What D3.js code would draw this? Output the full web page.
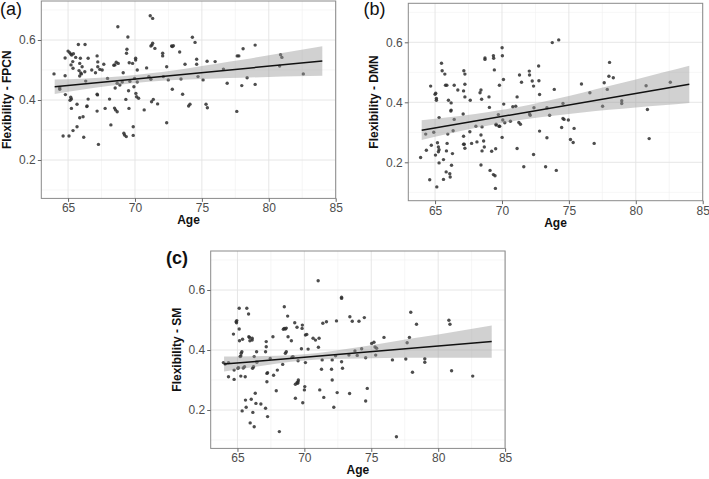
<!DOCTYPE html>
<html><head><meta charset="utf-8">
<script src="https://cdn.jsdelivr.net/npm/d3@7"></script>
<style>body{margin:0;background:#fff;} svg{display:block;font-family:"Liberation Sans",Arial,sans-serif;}</style>
</head><body><svg id="chart" width="709" height="479"></svg>
<script>
// ---------- data ----------
const xDomain = [63, 85];
const yDomain = [0.072, 0.73];
const xTicks = [65, 70, 75, 80, 85];
const xMinor = [67.5, 72.5, 77.5, 82.5];
const yTicks = [0.2, 0.4, 0.6];
const yMinor = [0.1, 0.3, 0.5, 0.7];

const pointsFPCN = [[63.95,0.487],[64.38,0.436],[64.38,0.441],[64.78,0.540],[64.80,0.418],[64.78,0.481],[64.63,0.280],[65.07,0.280],[65.0,0.563],[65.12,0.558],[65.2,0.553],[65.27,0.550],[65.4,0.554],[65.35,0.528],[65.22,0.517],[65.37,0.506],[65.25,0.403],[65.15,0.399],[65.2,0.409],[65.25,0.372],[65.37,0.298],[65.57,0.542],[65.67,0.311],[65.67,0.386],[65.77,0.585],[65.82,0.498],[65.87,0.480],[65.92,0.539],[65.87,0.522],[65.95,0.490],[66.0,0.487],[66.05,0.511],[65.87,0.341],[66.12,0.344],[66.17,0.276],[66.27,0.585],[66.32,0.463],[66.25,0.494],[66.42,0.380],[66.4,0.378],[66.5,0.403],[66.5,0.539],[66.77,0.500],[67.05,0.491],[67.17,0.547],[67.22,0.527],[67.22,0.511],[67.2,0.417],[67.17,0.419],[67.17,0.363],[67.27,0.252],[67.37,0.502],[67.55,0.500],[67.67,0.519],[67.77,0.372],[67.95,0.472],[68.1,0.403],[68.2,0.317],[68.42,0.516],[68.5,0.517],[68.6,0.526],[68.47,0.373],[68.52,0.440],[68.55,0.367],[68.67,0.361],[68.72,0.644],[68.67,0.456],[68.75,0.522],[68.87,0.450],[69.05,0.460],[69.12,0.491],[69.17,0.289],[69.22,0.283],[69.37,0.556],[69.4,0.569],[69.47,0.610],[69.32,0.402],[69.35,0.278],[69.52,0.431],[69.55,0.372],[69.62,0.462],[69.57,0.524],[69.82,0.522],[69.87,0.311],[69.87,0.282],[69.92,0.444],[69.97,0.472],[70.05,0.539],[70.05,0.533],[70.07,0.422],[70.12,0.411],[70.17,0.500],[70.17,0.460],[70.27,0.406],[70.69,0.367],[70.87,0.507],[71.04,0.478],[71.14,0.681],[71.32,0.672],[71.19,0.580],[71.32,0.589],[71.24,0.394],[71.27,0.583],[71.19,0.469],[71.37,0.402],[71.49,0.572],[71.69,0.387],[72.07,0.556],[72.07,0.547],[72.12,0.478],[72.37,0.324],[72.37,0.511],[72.49,0.467],[72.74,0.580],[72.79,0.578],[72.87,0.581],[72.79,0.436],[73.34,0.560],[73.44,0.470],[73.56,0.419],[73.74,0.519],[74.01,0.380],[74.11,0.386],[74.29,0.609],[74.49,0.592],[74.61,0.536],[74.61,0.519],[74.71,0.478],[75.09,0.467],[75.31,0.386],[75.41,0.374],[75.39,0.529],[75.99,0.528],[76.61,0.503],[76.89,0.456],[77.61,0.362],[77.64,0.547],[77.76,0.547],[77.98,0.448],[78.08,0.571],[78.38,0.474],[78.98,0.583],[78.98,0.452],[80.81,0.513],[80.88,0.551],[80.98,0.542],[82.58,0.487]];

const pointsDMN = [[63.92,0.216],[64.30,0.294],[64.35,0.240],[64.67,0.454],[64.60,0.142],[64.72,0.257],[64.90,0.300],[65.03,0.224],[65.0,0.427],[65.05,0.430],[65.10,0.413],[65.10,0.407],[65.13,0.118],[65.18,0.265],[65.25,0.251],[65.30,0.242],[65.25,0.235],[65.30,0.349],[65.30,0.198],[65.48,0.530],[65.53,0.505],[65.63,0.143],[65.63,0.209],[65.73,0.494],[65.78,0.457],[65.88,0.457],[65.83,0.168],[65.85,0.238],[65.90,0.263],[65.95,0.294],[66.0,0.407],[66.13,0.151],[66.10,0.162],[66.20,0.374],[66.18,0.371],[66.20,0.398],[66.23,0.190],[66.30,0.229],[66.35,0.305],[66.43,0.343],[66.43,0.457],[66.70,0.441],[67.15,0.505],[67.23,0.494],[67.23,0.460],[67.13,0.438],[67.23,0.418],[67.10,0.361],[67.13,0.287],[67.18,0.260],[67.13,0.260],[67.23,0.247],[67.63,0.407],[67.60,0.302],[67.73,0.263],[68.05,0.320],[68.13,0.268],[68.36,0.432],[68.43,0.441],[68.43,0.291],[68.51,0.318],[68.48,0.410],[68.43,0.191],[68.51,0.238],[68.63,0.271],[68.73,0.548],[68.73,0.543],[68.68,0.251],[69.03,0.418],[69.06,0.383],[69.11,0.173],[69.23,0.237],[69.36,0.555],[69.38,0.547],[69.36,0.159],[69.48,0.155],[69.43,0.508],[69.51,0.113],[69.53,0.245],[69.56,0.324],[69.56,0.327],[69.73,0.359],[69.81,0.457],[69.78,0.320],[69.83,0.320],[70.01,0.582],[70.03,0.555],[70.01,0.283],[70.06,0.341],[70.11,0.476],[70.13,0.394],[70.21,0.332],[70.63,0.337],[70.81,0.385],[71.03,0.387],[71.13,0.418],[71.13,0.246],[71.26,0.333],[71.31,0.491],[71.38,0.327],[71.46,0.467],[71.63,0.185],[72.04,0.504],[72.06,0.491],[72.11,0.357],[72.06,0.361],[72.26,0.471],[72.36,0.454],[72.36,0.226],[72.39,0.382],[72.74,0.521],[72.76,0.472],[72.81,0.426],[72.81,0.304],[73.26,0.185],[73.36,0.382],[73.36,0.282],[73.56,0.357],[73.76,0.599],[73.91,0.443],[74.06,0.173],[74.24,0.608],[74.46,0.316],[74.56,0.396],[74.56,0.346],[74.64,0.343],[74.96,0.341],[75.12,0.276],[75.32,0.266],[75.39,0.313],[75.94,0.461],[76.57,0.432],[76.89,0.263],[77.52,0.387],[77.64,0.465],[77.87,0.443],[77.99,0.487],[78.04,0.533],[78.32,0.482],[78.95,0.405],[78.95,0.396],[80.77,0.455],[80.87,0.376],[81.0,0.279],[82.58,0.467]];

const pointsSM = [[63.95,0.358],[64.08,0.353],[64.33,0.358],[64.33,0.311],[64.7,0.453],[64.75,0.333],[64.75,0.302],[64.9,0.494],[64.93,0.491],[64.95,0.498],[65.03,0.339],[65.08,0.341],[65.13,0.539],[65.13,0.470],[65.15,0.431],[65.2,0.378],[65.25,0.380],[65.25,0.313],[65.28,0.389],[65.33,0.394],[65.35,0.197],[65.38,0.436],[65.43,0.340],[65.53,0.344],[65.58,0.311],[65.7,0.539],[65.83,0.520],[65.65,0.209],[65.6,0.233],[65.85,0.444],[65.9,0.442],[65.93,0.431],[65.95,0.157],[66.03,0.236],[66.1,0.439],[66.1,0.433],[66.13,0.339],[66.15,0.192],[66.2,0.344],[66.25,0.144],[66.25,0.378],[66.33,0.256],[66.38,0.222],[66.43,0.394],[66.45,0.359],[66.75,0.220],[67.1,0.394],[67.1,0.206],[67.15,0.428],[67.15,0.411],[67.2,0.294],[67.2,0.322],[67.25,0.324],[67.25,0.178],[67.45,0.372],[67.65,0.444],[67.7,0.316],[67.9,0.264],[67.98,0.333],[68.13,0.128],[68.38,0.352],[68.43,0.469],[68.5,0.472],[68.58,0.470],[68.65,0.473],[68.5,0.544],[68.58,0.389],[68.65,0.394],[68.75,0.513],[68.78,0.444],[69.03,0.431],[69.08,0.376],[69.15,0.378],[69.28,0.491],[69.33,0.286],[69.45,0.291],[69.5,0.289],[69.53,0.294],[69.33,0.239],[69.45,0.476],[69.53,0.364],[69.55,0.300],[69.85,0.483],[69.83,0.472],[69.78,0.404],[69.88,0.224],[70.0,0.267],[70.03,0.278],[70.08,0.450],[70.08,0.358],[70.18,0.452],[70.28,0.403],[70.65,0.439],[70.83,0.433],[71.03,0.631],[71.05,0.409],[71.1,0.439],[71.15,0.267],[71.28,0.336],[71.33,0.367],[71.38,0.489],[71.45,0.242],[71.65,0.494],[72.03,0.336],[72.08,0.367],[72.08,0.300],[72.2,0.209],[72.33,0.381],[72.4,0.497],[72.45,0.258],[72.78,0.361],[72.78,0.572],[72.78,0.576],[72.85,0.339],[73.33,0.383],[73.38,0.255],[73.4,0.511],[73.58,0.496],[73.78,0.397],[73.95,0.382],[74.08,0.496],[74.28,0.404],[74.48,0.508],[74.58,0.374],[74.58,0.230],[74.7,0.272],[75.03,0.422],[75.2,0.426],[75.28,0.410],[75.33,0.383],[75.4,0.406],[75.95,0.442],[76.58,0.367],[76.88,0.111],[77.58,0.370],[77.68,0.424],[77.85,0.442],[77.95,0.526],[78.08,0.326],[78.38,0.486],[79.0,0.371],[79.0,0.359],[80.8,0.499],[80.88,0.486],[81.0,0.331],[82.58,0.313]];

// fitted line (ends) and 95% confidence band
const fitAges = [64, 84];
const fitFPCN = [0.444, 0.530];
const fitDMN  = [0.307, 0.460];
const fitSM   = [0.353, 0.428];
const bandAges  = [64, 66, 68, 70, 72, 74, 76, 78, 80, 82, 84];
const lowerFPCN = [0.420, 0.434, 0.447, 0.457, 0.464, 0.468, 0.472, 0.474, 0.477, 0.479, 0.481];
const upperFPCN = [0.468, 0.471, 0.476, 0.483, 0.493, 0.506, 0.520, 0.534, 0.549, 0.564, 0.579];
const lowerDMN  = [0.274, 0.295, 0.314, 0.331, 0.345, 0.356, 0.366, 0.375, 0.383, 0.390, 0.398];
const upperDMN  = [0.340, 0.350, 0.361, 0.375, 0.391, 0.411, 0.432, 0.454, 0.476, 0.499, 0.522];
const lowerSM   = [0.328, 0.342, 0.355, 0.365, 0.370, 0.372, 0.373, 0.374, 0.374, 0.374, 0.374];
const upperSM   = [0.378, 0.379, 0.381, 0.386, 0.396, 0.409, 0.423, 0.438, 0.452, 0.467, 0.482];

const panelLabels = ["(a)", "(b)", "(c)"];
const yTitles = ["Flexibility - FPCN", "Flexibility - DMN", "Flexibility - SM"];
const xTitle = "Age";

// ---------- layout ----------
const W = 294.4, H = 197.4;
const layout = [
  {left: 41.3,  top: 1.0,   labelX: 0,     labelY: 14.5,  titleX: 10.5, labelWeight: "normal"},
  {left: 408.3, top: 3.3,   labelX: 363.5, labelY: 14.5,  titleX: 378,  labelWeight: "normal"},
  {left: 210.7, top: 251.0, labelX: 166,   labelY: 264,   titleX: 181,  labelWeight: "bold"}
];
const datasets = [
  {pts: pointsFPCN, fit: fitFPCN, lo: lowerFPCN, hi: upperFPCN},
  {pts: pointsDMN,  fit: fitDMN,  lo: lowerDMN,  hi: upperDMN},
  {pts: pointsSM,   fit: fitSM,   lo: lowerSM,   hi: upperSM}
];

const svg = d3.select("#chart");
svg.append("rect").attr("width", 709).attr("height", 479).attr("fill", "#fff");

datasets.forEach((ds, i) => {
  const L = layout[i];
  const x = d3.scaleLinear().domain(xDomain).range([L.left, L.left + W]);
  const y = d3.scaleLinear().domain(yDomain).range([L.top + H, L.top]);
  const g = svg.append("g");

  // grid
  g.selectAll(".vminor").data(xMinor).join("line")
    .attr("x1", d => x(d)).attr("x2", d => x(d)).attr("y1", L.top).attr("y2", L.top + H)
    .attr("stroke", "#f0f0f0").attr("stroke-width", 0.6);
  g.selectAll(".hminor").data(yMinor).join("line")
    .attr("x1", L.left).attr("x2", L.left + W).attr("y1", d => y(d)).attr("y2", d => y(d))
    .attr("stroke", "#f0f0f0").attr("stroke-width", 0.6);
  g.selectAll(".vmajor").data(xTicks).join("line")
    .attr("x1", d => x(d)).attr("x2", d => x(d)).attr("y1", L.top).attr("y2", L.top + H)
    .attr("stroke", "#e3e3e3").attr("stroke-width", 0.9);
  g.selectAll(".hmajor").data(yTicks).join("line")
    .attr("x1", L.left).attr("x2", L.left + W).attr("y1", d => y(d)).attr("y2", d => y(d))
    .attr("stroke", "#e3e3e3").attr("stroke-width", 0.9);

  // points
  g.selectAll("circle").data(ds.pts).join("circle")
    .attr("cx", d => x(d[0])).attr("cy", d => y(d[1])).attr("r", 1.7)
    .attr("fill", "#2e2e2e").attr("fill-opacity", 0.85);

  // band
  const bandData = bandAges.map((a, k) => [a, ds.lo[k], ds.hi[k]]);
  g.append("path").datum(bandData)
    .attr("d", d3.area().x(d => x(d[0])).y0(d => y(d[1])).y1(d => y(d[2])).curve(d3.curveMonotoneX))
    .attr("fill", "#999").attr("fill-opacity", 0.45);

  // fit line
  const lineData = fitAges.map((a, k) => [a, ds.fit[k]]);
  g.append("path").datum(lineData)
    .attr("d", d3.line().x(d => x(d[0])).y(d => y(d[1])))
    .attr("fill", "none").attr("stroke", "#111").attr("stroke-width", 1.5);

  // border
  g.append("rect").attr("x", L.left).attr("y", L.top).attr("width", W).attr("height", H)
    .attr("fill", "none").attr("stroke", "#8a8a8a").attr("stroke-width", 1);

  // axes
  const xa = g.append("g").attr("transform", `translate(0,${L.top + H})`)
    .call(d3.axisBottom(x).tickValues(xTicks).tickSize(3.5).tickPadding(2).tickFormat(d3.format("d")));
  const ya = g.append("g").attr("transform", `translate(${L.left},0)`)
    .call(d3.axisLeft(y).tickValues(yTicks).tickSize(3.5).tickPadding(2).tickFormat(d3.format(".1f")));
  [xa, ya].forEach(a => {
    a.select(".domain").remove();
    a.selectAll(".tick line").attr("stroke", "#666");
    a.selectAll(".tick text").attr("fill", "#4d4d4d").style("font-size", "12px")
      .style("font-family", '"Liberation Sans",Arial,sans-serif');
  });

  // titles
  g.append("text").attr("x", L.left + W / 2).attr("y", L.top + H + 26)
    .attr("text-anchor", "middle").style("font-size", "12px").style("font-weight", "bold")
    .attr("fill", "#111").text(xTitle);
  g.append("text").attr("transform", `translate(${L.titleX},${L.top + H / 2}) rotate(-90)`)
    .attr("text-anchor", "middle").style("font-size", "12px").style("font-weight", "bold")
    .attr("fill", "#111").text(yTitles[i]);
  g.append("text").attr("x", L.labelX).attr("y", L.labelY)
    .style("font-size", "18px").style("font-weight", L.labelWeight)
    .attr("fill", "#111").text(panelLabels[i]);
});
</script></body></html>
